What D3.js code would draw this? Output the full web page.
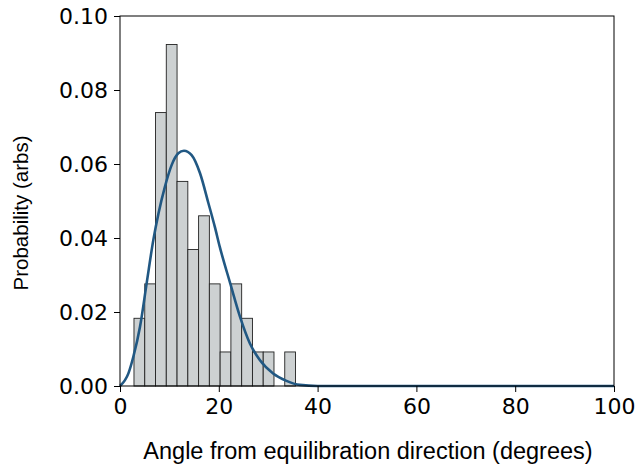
<!DOCTYPE html>
<html>
<head>
<meta charset="utf-8">
<script src="https://cdn.jsdelivr.net/npm/d3@7"></script>
<style>
  body { margin: 0; background: #fff; }
</style>
</head>
<body>
<div id="chart"></div>
<script>
// histogram bins (degrees) and densities
var binEdges = [2.83, 5.01, 7.19, 9.37, 11.55, 13.73, 15.91, 18.09, 20.27, 22.45, 24.63, 26.81, 28.99, 31.17, 33.35, 35.53]
var binHeights = [0.0183, 0.0276, 0.0739, 0.0923, 0.0553, 0.0369, 0.046, 0.0276, 0.0092, 0.0276, 0.0183, 0.0092, 0.0092, 0, 0.0092]

// fitted curve
var fitX = [0, 1.7, 2.7, 4.05, 5.4, 6.75, 7.8, 9.1, 10.45, 11.8, 12.95, 14.5, 16.2, 17.9, 19.2, 20.2, 22.3, 24.3, 26.3, 28.3, 31, 33.7, 36.4, 40, 50, 100]
var fitY = [0, 0.0034, 0.0079, 0.016, 0.0278, 0.0395, 0.0467, 0.0539, 0.0597, 0.0629, 0.0636, 0.0624, 0.0575, 0.0494, 0.043, 0.0376, 0.0278, 0.0187, 0.0115, 0.007, 0.0034, 0.0014, 0.0003, 0, 0, 0]

var xTicks = [0, 20, 40, 60, 80, 100]
var yTicks = [0, 0.02, 0.04, 0.06, 0.08, 0.10]

var W = 637, H = 466
var m = {left: 120, right: 23, top: 16, bottom: 80}

var svg = d3.select('#chart').append('svg').attr('width', W).attr('height', H)

var x = d3.scaleLinear().domain([0, 100]).range([m.left, W - m.right])
var y = d3.scaleLinear().domain([0, 0.10]).range([H - m.bottom, m.top])

// bars
var bins = binHeights.map(function(h, i){ return {x0: binEdges[i], x1: binEdges[i+1], h: h} })
svg.append('g').selectAll('rect').data(bins.filter(function(d){ return d.h > 0 })).enter().append('rect')
  .attr('x', function(d){ return x(d.x0) })
  .attr('y', function(d){ return y(d.h) })
  .attr('width', function(d){ return x(d.x1) - x(d.x0) })
  .attr('height', function(d){ return y(0) - y(d.h) })
  .attr('fill', '#cdd1d2')
  .attr('stroke', '#222')
  .attr('stroke-width', 0.9)

// curve
var pts = fitX.map(function(v, i){ return [v, fitY[i]] })
var line = d3.line().x(function(d){ return x(d[0]) }).y(function(d){ return y(d[1]) }).curve(d3.curveMonotoneX)
svg.append('path').datum(pts).attr('d', line)
  .attr('fill', 'none').attr('stroke', '#215883').attr('stroke-width', 2.6)

// axes
var xAxis = svg.append('g').attr('transform', 'translate(0,' + y(0) + ')')
  .call(d3.axisBottom(x).tickValues(xTicks).tickSize(6).tickPadding(6).tickFormat(d3.format('d')))
var yAxis = svg.append('g').attr('transform', 'translate(' + x(0) + ',0)')
  .call(d3.axisLeft(y).tickValues(yTicks).tickSize(6).tickPadding(6).tickFormat(d3.format('.2f')))

svg.selectAll('.tick text').attr('font-family', 'DejaVu Sans').attr('font-size', 22).attr('fill', '#000')
svg.selectAll('.tick line').attr('stroke', '#000')
svg.selectAll('.domain').remove()

// frame
svg.append('rect').attr('x', x(0)).attr('y', y(0.10))
  .attr('width', x(100) - x(0)).attr('height', y(0) - y(0.10))
  .attr('fill', 'none').attr('stroke', '#000').attr('stroke-width', 1)

// labels
svg.append('text').attr('x', 368).attr('y', 459)
  .attr('text-anchor', 'middle').attr('font-family', 'Liberation Sans').attr('font-size', 23.5)
  .text('Angle from equilibration direction (degrees)')
svg.append('text').attr('transform', 'translate(28,213) rotate(-90)')
  .attr('text-anchor', 'middle').attr('font-family', 'Liberation Sans').attr('font-size', 20.5)
  .text('Probability (arbs)')
</script>
</body>
</html>
